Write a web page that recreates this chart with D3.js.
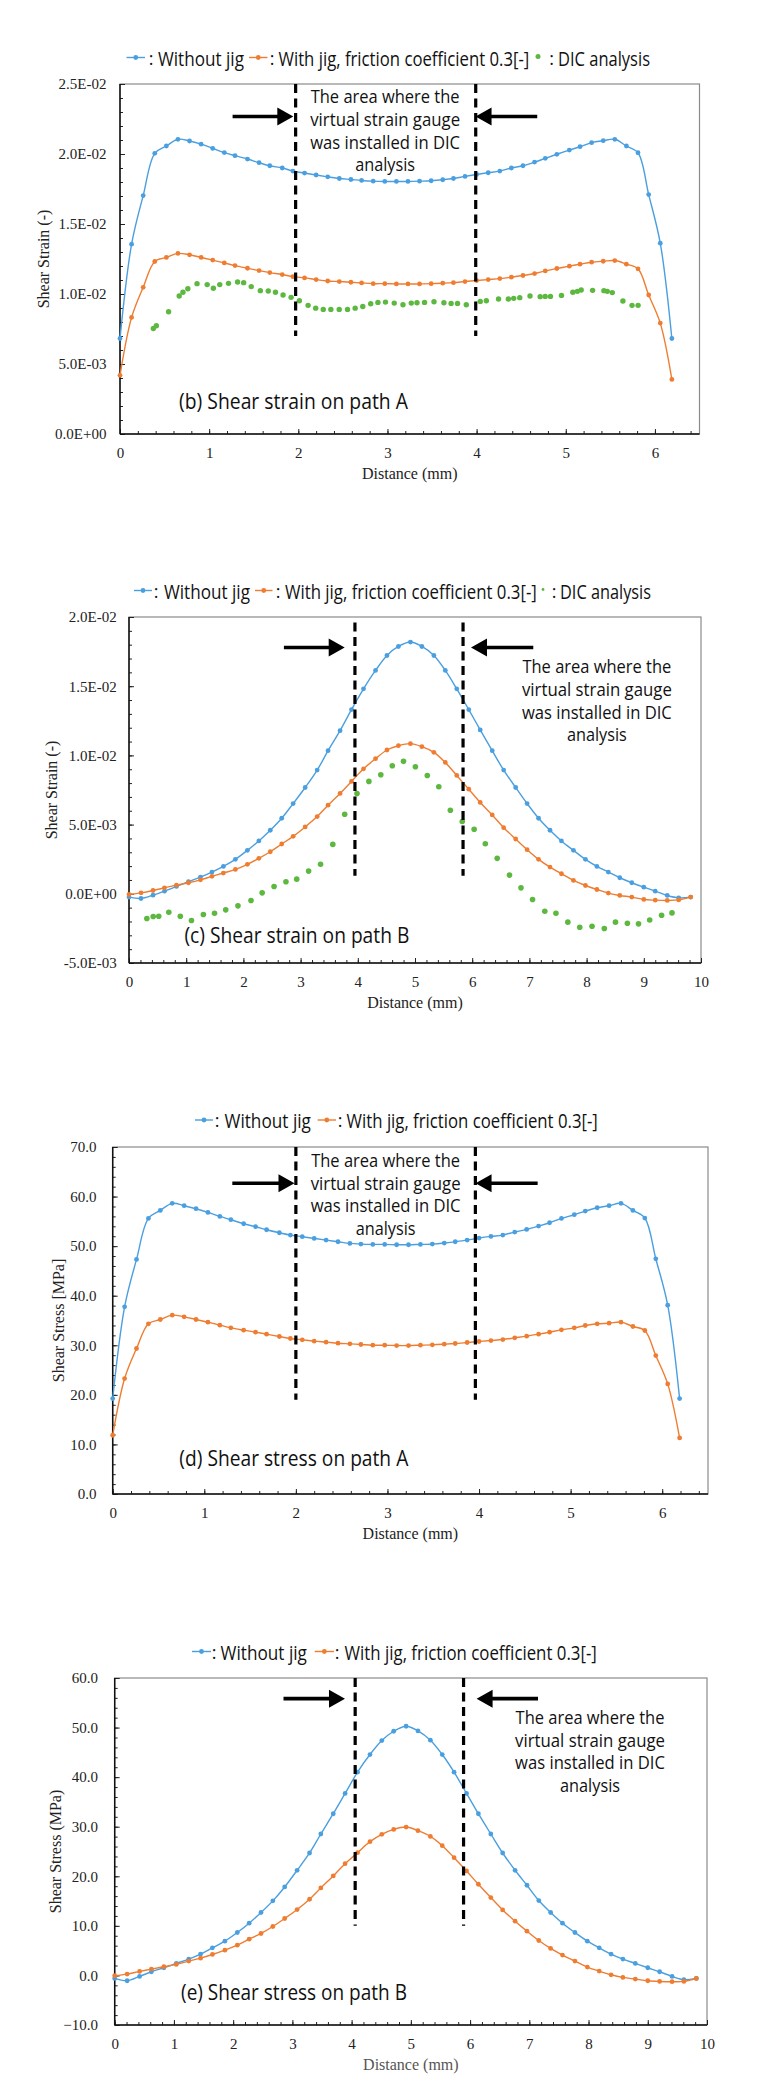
<!DOCTYPE html>
<html><head><meta charset="utf-8">
<script src="https://cdn.jsdelivr.net/npm/d3@7"></script>
<style>body{margin:0;background:#fff} svg{display:block}</style>
</head><body>
<svg id="fig" width="768" height="2099"></svg>
<script>
// ---------------- DATA ----------------
const pathA_x = [0,0.13,0.26,0.39,0.52,0.65,0.78,0.91,1.04,1.17,1.29,1.43,1.56,1.68,1.82,1.94,2.07,2.20,2.33,2.46,2.59,2.71,2.84,2.97,3.10,3.23,3.36,3.49,3.62,3.74,3.87,4.00,4.13,4.26,4.39,4.52,4.65,4.77,4.90,5.04,5.16,5.29,5.42,5.55,5.68,5.81,5.93,6.06,6.19];
const pathB_x = [0,0.21,0.42,0.62,0.83,1.04,1.25,1.45,1.65,1.86,2.07,2.27,2.47,2.67,2.87,3.08,3.29,3.48,3.69,3.89,4.10,4.31,4.51,4.71,4.92,5.12,5.33,5.53,5.73,5.94,6.14,6.35,6.55,6.76,6.96,7.16,7.36,7.56,7.77,7.98,8.18,8.38,8.58,8.79,9.00,9.20,9.41,9.61,9.82];

// (b) shear strain, path A
const strainA_noJig = [0.00682,0.01356,0.01703,0.02005,0.02057,0.02105,0.02093,0.0207,0.0204,0.0201,0.01988,0.01964,0.01938,0.01916,0.019,0.01878,0.01864,0.0185,0.01837,0.01825,0.01818,0.01811,0.01806,0.01804,0.01804,0.01804,0.01806,0.01809,0.01816,0.01825,0.0184,0.01854,0.01866,0.01878,0.019,0.01916,0.01942,0.01969,0.01998,0.02028,0.02052,0.02081,0.02095,0.02105,0.02057,0.02009,0.0171,0.01363,0.00682];
const strainA_jig = [0.00419,0.00833,0.01048,0.01232,0.01261,0.0129,0.0128,0.01261,0.01242,0.01222,0.01203,0.01184,0.01167,0.01153,0.01139,0.01124,0.01115,0.01103,0.01093,0.01089,0.01084,0.01079,0.01074,0.01074,0.01072,0.01072,0.01072,0.01074,0.01077,0.01081,0.01089,0.01096,0.01103,0.0111,0.0112,0.01132,0.01146,0.01165,0.01182,0.01199,0.01213,0.01227,0.01234,0.01239,0.01213,0.0118,0.00993,0.00792,0.0039];
const strainA_dic_x = [0.374,0.408,0.545,0.664,0.706,0.761,0.864,0.978,1.047,1.119,1.217,1.319,1.387,1.472,1.574,1.663,1.744,1.829,1.919,2.012,2.110,2.195,2.280,2.365,2.459,2.552,2.638,2.723,2.812,2.893,2.978,3.076,3.174,3.267,3.331,3.416,3.522,3.633,3.714,3.786,3.884,4.041,4.109,4.246,4.356,4.416,4.484,4.599,4.713,4.769,4.828,4.952,5.079,5.130,5.173,5.301,5.428,5.466,5.522,5.641,5.743,5.811];
const strainA_dic = [0.00754,0.00773,0.00873,0.00986,0.01012,0.01038,0.01074,0.01067,0.01041,0.01067,0.01076,0.01086,0.01081,0.01053,0.01024,0.01021,0.01012,0.00993,0.00976,0.00952,0.00919,0.00899,0.0089,0.0089,0.0089,0.0089,0.00899,0.00911,0.0093,0.0094,0.00942,0.00935,0.00923,0.00935,0.00938,0.0094,0.00945,0.00938,0.00933,0.00933,0.00923,0.00947,0.00952,0.00964,0.00964,0.00969,0.00974,0.00986,0.00981,0.00983,0.00983,0.0099,0.01012,0.01019,0.01029,0.01026,0.01024,0.01019,0.0101,0.0095,0.00919,0.00919];

// (c) shear strain, path B
const strainB_noJig = [-0.00024,-0.00034,-0.0001,0.00019,0.00053,0.00087,0.00121,0.00157,0.00198,0.00249,0.00314,0.00382,0.00459,0.00546,0.00652,0.00768,0.00894,0.01034,0.01179,0.01331,0.01481,0.01614,0.01722,0.01787,0.01819,0.01787,0.01722,0.01614,0.01481,0.01331,0.01184,0.01034,0.00894,0.00768,0.00652,0.00546,0.00459,0.00382,0.00314,0.00249,0.00198,0.00157,0.00116,0.0008,0.00048,0.00019,-0.00012,-0.00029,-0.00024];
const strainB_jig = [-0.00005,0.00007,0.00024,0.00043,0.00063,0.0008,0.00101,0.00126,0.0015,0.00176,0.00213,0.00256,0.00304,0.0036,0.00415,0.00483,0.00558,0.0064,0.00725,0.00812,0.00903,0.00976,0.01039,0.0107,0.01085,0.01063,0.01022,0.00949,0.00855,0.00756,0.0066,0.0057,0.00478,0.00396,0.00319,0.00249,0.00193,0.00145,0.00097,0.0006,0.00031,0.00005,-0.00012,-0.00024,-0.00041,-0.00046,-0.00048,-0.00044,-0.00024];
const strainB_dic_x = [0.312,0.423,0.52,0.696,0.897,1.092,1.3,1.495,1.691,1.905,2.133,2.328,2.536,2.744,2.932,3.14,3.349,3.563,3.771,3.986,4.194,4.402,4.603,4.799,5.007,5.215,5.416,5.618,5.826,6.034,6.229,6.437,6.652,6.853,7.055,7.269,7.464,7.672,7.88,8.095,8.31,8.505,8.713,8.908,9.103,9.311,9.493];
const strainB_dic = [-0.00179,-0.00164,-0.00162,-0.00133,-0.00162,-0.00193,-0.0015,-0.0014,-0.00116,-0.00087,-0.00048,0.00007,0.00053,0.00087,0.00106,0.00164,0.00213,0.00357,0.00575,0.00725,0.00812,0.0086,0.00925,0.00957,0.00918,0.00855,0.00773,0.00604,0.00522,0.00466,0.00362,0.00256,0.00135,0.00043,-0.00041,-0.00126,-0.0014,-0.00205,-0.00242,-0.00234,-0.00251,-0.00205,-0.00213,-0.00217,-0.00189,-0.00155,-0.00138];

// (d) shear stress, path A
const stressA_noJig = [19.25,37.76,47.32,55.6,57.21,58.63,58.16,57.55,56.81,56.0,55.33,54.52,53.92,53.31,52.7,52.23,51.9,51.56,51.22,50.89,50.55,50.41,50.35,50.35,50.28,50.28,50.35,50.41,50.62,50.89,51.22,51.63,51.96,52.23,52.84,53.38,54.05,54.72,55.6,56.34,57.08,57.75,58.16,58.63,57.21,55.67,47.45,38.1,19.25];
const stressA_jig = [11.85,23.29,29.35,34.33,35.2,36.08,35.74,35.2,34.67,34.06,33.52,33.05,32.65,32.24,31.77,31.37,31.1,30.83,30.63,30.42,30.29,30.16,30.02,30.02,29.95,29.95,30.02,30.09,30.22,30.36,30.56,30.76,30.96,31.16,31.5,31.84,32.24,32.65,33.12,33.52,33.99,34.33,34.46,34.67,33.79,32.98,27.93,22.21,11.31];

// (e) shear stress, path B
const stressB_noJig = [-0.6,-1.07,-0.2,0.74,1.55,2.42,3.29,4.3,5.57,6.92,8.66,10.54,12.69,15.04,17.85,21.21,24.7,28.53,32.62,36.71,41.01,44.56,47.38,49.26,50.27,49.33,47.45,44.56,41.01,36.71,32.62,28.53,24.7,21.21,18.19,15.1,12.69,10.54,8.66,6.92,5.57,4.3,3.29,2.42,1.55,0.74,-0.2,-0.87,-0.6];
const stressB_jig = [-0.06,0.27,0.81,1.28,1.75,2.22,2.89,3.49,4.23,5.1,6.11,7.32,8.46,9.87,11.48,13.29,15.37,17.65,20.07,22.55,24.77,26.98,28.46,29.46,29.93,29.2,28.05,26.18,23.76,21.08,18.39,15.71,13.22,10.94,8.93,7.05,5.44,4.1,2.89,1.68,0.87,0.13,-0.4,-0.74,-1.07,-1.21,-1.27,-1.21,-0.6];

// labels
const legendNoJig = "Without jig";
const legendJig = "With jig, friction coefficient 0.3[-]";
const legendDIC = "DIC analysis";
const noteLines = ["The area where the","virtual strain gauge","was installed in DIC","analysis"];
const xTicksA = [0,1,2,3,4,5,6];
const xTicksB = [0,1,2,3,4,5,6,7,8,9,10];
const yTicksStrainA = [0,0.005,0.01,0.015,0.02,0.025];
const yTicksStrainB = [-0.005,0,0.005,0.01,0.015,0.02];
const yTicksStressA = [0,10,20,30,40,50,60,70];
const yTicksStressB = [-10,0,10,20,30,40,50,60];

// ---------------- STYLE ----------------
const BLUE = "#4a9fe0", ORANGE = "#ee7d31", GREEN = "#5db840";
const SERIF = "'Liberation Serif','Times New Roman',serif";
const SANS = "'Open Sans','Noto Sans',sans-serif";

const svg = d3.select("#fig");
svg.append("rect").attr("width",768).attr("height",2099).attr("fill","#fff");

function sci(v){
  if (Math.abs(v) < 1e-12) return "0.0E+00";
  const e = Math.floor(Math.log10(Math.abs(v)) + 1e-9);
  const m = v / Math.pow(10, e);
  return m.toFixed(1) + "E" + (e < 0 ? "-" : "+") + String(Math.abs(e)).padStart(2, "0");
}
const f1 = d3.format(".1f");
const rng = (a,b,s) => d3.range(0, Math.round((b-a)/s)+1).map(i => +(a + i*s).toFixed(6));

// condensed sans text: scaled horizontally to a target width
function condText(g, str, x, y, size, width, anchor){
  const t = g.append("text").attr("font-family",SANS).attr("font-size",size).attr("fill","#111")
    .attr("text-anchor",anchor||"start").text(str);
  const w = t.node().getComputedTextLength();
  const k = w > 0 ? width / w : 1;
  t.attr("transform",`translate(${x},${y}) scale(${k},1)`);
  return t;
}

function drawChart(c){
  const g = svg.append("g");
  const B = c.box;
  const x = d3.scaleLinear().domain(c.xDomain).range([B.l, B.r]);
  const y = d3.scaleLinear().domain(c.yDomain).range([B.b, B.t]);

  // plot frame
  g.append("rect").attr("x",B.l).attr("y",B.t).attr("width",B.r-B.l).attr("height",B.b-B.t)
    .attr("fill","none").attr("stroke","#8a8a8a").attr("stroke-width",1.2);

  const styleAxis = s => { s.select(".domain").remove(); s.selectAll("line").attr("stroke","#222").attr("stroke-width",1); };
  // minor ticks
  g.append("g").attr("transform",`translate(0,${B.b})`)
    .call(d3.axisBottom(x).tickValues(c.xMinor).tickSize(-3).tickFormat("")).call(styleAxis)
    .call(s => s.selectAll("text").remove());
  g.append("g").attr("transform",`translate(${B.l},0)`)
    .call(d3.axisLeft(y).tickValues(c.yMinor).tickSize(-3).tickFormat("")).call(styleAxis)
    .call(s => s.selectAll("text").remove());
  // major ticks
  const xa = g.append("g").attr("transform",`translate(0,${B.b})`)
    .call(d3.axisBottom(x).tickValues(c.xTicks).tickSize(-5).tickPadding(13.3).tickFormat(d3.format("d")));
  xa.call(styleAxis);
  xa.attr("font-family",SERIF).attr("font-size",15).selectAll("text").attr("fill","#222");
  const ya = g.append("g").attr("transform",`translate(${B.l},0)`)
    .call(d3.axisLeft(y).tickValues(c.yTicks).tickSize(-5).tickPadding(c.yPad).tickFormat(c.yFmt));
  ya.call(styleAxis);
  ya.attr("font-family",SERIF).attr("font-size",15).selectAll("text").attr("fill","#222");

  // axis lines
  g.append("line").attr("x1",B.l).attr("x2",B.l).attr("y1",B.t).attr("y2",B.b).attr("stroke","#111").attr("stroke-width",1.5);
  g.append("line").attr("x1",B.l).attr("x2",B.r).attr("y1",B.b).attr("y2",B.b).attr("stroke","#111").attr("stroke-width",1.5);

  // axis titles
  g.append("text").attr("x",(B.l+B.r)/2).attr("y",B.b+45).attr("text-anchor","middle")
    .attr("font-family",SERIF).attr("font-size",16).attr("fill",c.xTitleColor||"#222").text("Distance (mm)");
  g.append("text").attr("transform",`translate(${c.yTitleX},${(B.t+B.b)/2}) rotate(-90)`)
    .attr("text-anchor","middle").attr("dominant-baseline","central")
    .attr("font-family",SERIF).attr("font-size",16).attr("fill","#222").text(c.yTitle);

  // series
  const line = d3.line().x(d=>x(d[0])).y(d=>y(d[1])).curve(d3.curveCatmullRom.alpha(0.5));
  c.series.forEach(s => {
    const pts = s.x.map((v,i)=>[v, s.y[i]]);
    if (s.line) g.append("path").attr("d",line(pts)).attr("fill","none").attr("stroke",s.color).attr("stroke-width",1.4);
    g.append("g").selectAll("circle").data(pts).join("circle")
      .attr("cx",d=>x(d[0])).attr("cy",d=>y(d[1])).attr("r",s.r).attr("fill",s.color);
  });

  // dashed lines
  c.dash.x.forEach(v => {
    g.append("line").attr("x1",x(v)).attr("x2",x(v)).attr("y1",y(c.dash.from)).attr("y2",y(c.dash.to))
      .attr("stroke","#000").attr("stroke-width",3.2).attr("stroke-dasharray","9,5.5");
  });

  // arrows
  c.arrows.forEach(a => {
    const tx = x(a.tip), sx = x(a.tail), ty = y(a.y);
    const dir = tx > sx ? 1 : -1;
    const hl = 16, hh = 9, st = 1.8;
    const p = [[sx,ty-st],[tx-dir*hl,ty-st],[tx-dir*hl,ty-hh],[tx,ty],[tx-dir*hl,ty+hh],[tx-dir*hl,ty+st],[sx,ty+st]];
    g.append("path").attr("d","M"+p.map(q=>q.join(",")).join("L")+"Z").attr("fill","#000");
  });

  // annotation
  const noteWidths = [149,150,150,60];
  noteLines.forEach((t,i) => condText(g, t, x(c.note.x), y(c.note.y)+i*22.6, 18, noteWidths[i], "middle"));

  // panel title
  condText(g, c.title.text, x(c.title.x), y(c.title.y), 21, c.title.w, "start");

  // legend
  const L = c.legend, cy = L.y;
  L.items.forEach(it => {
    if (it.kind === "line") {
      g.append("line").attr("x1",it.x1).attr("x2",it.x2).attr("y1",cy-1).attr("y2",cy-1).attr("stroke",it.color).attr("stroke-width",1.4);
      g.append("circle").attr("cx",(it.x1+it.x2)/2).attr("cy",cy-1).attr("r",2.4).attr("fill",it.color);
    } else if (it.kind === "dot") {
      g.append("circle").attr("cx",it.x).attr("cy",cy-2).attr("r",it.r).attr("fill",it.color);
    } else if (it.kind === "colon") {
      g.append("text").attr("x",it.x).attr("y",cy+6).attr("text-anchor","middle")
        .attr("font-family",SANS).attr("font-size",18).attr("fill","#111").text(":");
    } else {
      condText(g, it.text, it.x, cy+7, 20, it.w, "start");
    }
  });
}

// ---------------- CHARTS ----------------
drawChart({
  box:{l:120,r:699.5,t:84,b:434}, xDomain:[0,6.5], yDomain:[0,0.025],
  xTicks:xTicksA, xMinor:rng(0,6.4,0.2), yTicks:yTicksStrainA, yMinor:rng(0,0.025,0.001),
  yFmt:sci, yPad:13.6, yTitle:"Shear Strain (-)", yTitleX:43,
  series:[
    {x:pathA_x, y:strainA_noJig, color:BLUE, line:true, r:2.4},
    {x:pathA_x, y:strainA_jig, color:ORANGE, line:true, r:2.4},
    {x:strainA_dic_x, y:strainA_dic, color:GREEN, line:false, r:2.7}
  ],
  dash:{x:[1.97,3.99], from:0.025, to:0.007},
  arrows:[{tail:1.263, tip:1.944, y:0.02268},{tail:4.68, tip:3.988, y:0.02268}],
  note:{x:2.974, y:0.02361},
  title:{x:0.662, y:0.00182, w:229, text:"(b) Shear strain on path A"},
  legend:{y:58.5, items:[
    {kind:"line",color:BLUE,x1:126.5,x2:145},{kind:"colon",x:151},{kind:"text",x:158,w:86,text:legendNoJig},
    {kind:"line",color:ORANGE,x1:249,x2:267.5},{kind:"colon",x:272},{kind:"text",x:278.5,w:251,text:legendJig},
    {kind:"dot",color:GREEN,x:538,r:2.5},{kind:"colon",x:551.5},{kind:"text",x:558,w:92,text:legendDIC}
  ]}
});

drawChart({
  box:{l:129,r:701,t:617,b:963}, xDomain:[0,10], yDomain:[-0.005,0.02],
  xTicks:xTicksB, xMinor:rng(0,10,0.2), yTicks:yTicksStrainB, yMinor:rng(-0.005,0.02,0.001),
  yFmt:sci, yPad:12.3, yTitle:"Shear Strain (-)", yTitleX:51.5,
  series:[
    {x:pathB_x, y:strainB_noJig, color:BLUE, line:true, r:2.4},
    {x:pathB_x, y:strainB_jig, color:ORANGE, line:true, r:2.4},
    {x:strainB_dic_x, y:strainB_dic, color:GREEN, line:false, r:2.8}
  ],
  dash:{x:[3.95,5.84], from:0.0196, to:0.0013},
  arrows:[{tail:2.708, tip:3.771, y:0.0178},{tail:7.068, tip:5.979, y:0.0178}],
  note:{x:8.18, y:0.01593},
  title:{x:0.969, y:-0.00359, w:225, text:"(c) Shear strain on path B"},
  legend:{y:591.5, items:[
    {kind:"line",color:BLUE,x1:134,x2:152},{kind:"colon",x:156},{kind:"text",x:164,w:86,text:legendNoJig},
    {kind:"line",color:ORANGE,x1:255,x2:272.5},{kind:"colon",x:278},{kind:"text",x:285,w:252,text:legendJig},
    {kind:"dot",color:GREEN,x:543,r:1.4},{kind:"colon",x:554},{kind:"text",x:560,w:91,text:legendDIC}
  ]}
});

drawChart({
  box:{l:112.7,r:708,t:1147,b:1494}, xDomain:[0,6.5], yDomain:[0,70],
  xTicks:xTicksA, xMinor:rng(0,6.4,0.2), yTicks:yTicksStressA, yMinor:rng(0,70,2),
  yFmt:f1, yPad:16.1, yTitle:"Shear Stress [MPa]", yTitleX:58,
  series:[
    {x:pathA_x, y:stressA_noJig, color:BLUE, line:true, r:2.4},
    {x:pathA_x, y:stressA_jig, color:ORANGE, line:true, r:2.4}
  ],
  dash:{x:[2.0,3.96], from:70, to:19},
  arrows:[{tail:1.306, tip:1.985, y:62.68},{tail:4.64, tip:3.962, y:62.68}],
  note:{x:2.98, y:65.95},
  title:{x:0.728, y:5.69, w:229, text:"(d) Shear stress on path A"},
  legend:{y:1121, items:[
    {kind:"line",color:BLUE,x1:195,x2:213},{kind:"colon",x:217},{kind:"text",x:224.5,w:86.5,text:legendNoJig},
    {kind:"line",color:ORANGE,x1:317.6,x2:336},{kind:"colon",x:340},{kind:"text",x:346.6,w:251.4,text:legendJig}
  ]}
});

drawChart({
  box:{l:114.7,r:707,t:1678,b:2025}, xDomain:[0,10], yDomain:[-10,60],
  xTicks:xTicksB, xMinor:rng(0,10,0.2), yTicks:yTicksStressB, yMinor:rng(-10,60,2),
  yFmt:f1, yPad:16.7, yTitle:"Shear Stress (MPa)", yTitleX:55, xTitleColor:"#555",
  series:[
    {x:pathB_x, y:stressB_noJig, color:BLUE, line:true, r:2.4},
    {x:pathB_x, y:stressB_jig, color:ORANGE, line:true, r:2.4}
  ],
  dash:{x:[4.06,5.89], from:60, to:10},
  arrows:[{tail:2.85, tip:3.888, y:55.83},{tail:7.147, tip:6.11, y:55.83}],
  note:{x:8.025, y:50.70},
  title:{x:1.12, y:-4.86, w:226, text:"(e) Shear stress on path B"},
  legend:{y:1652.5, items:[
    {kind:"line",color:BLUE,x1:192,x2:211},{kind:"colon",x:214},{kind:"text",x:220.6,w:86.4,text:legendNoJig},
    {kind:"line",color:ORANGE,x1:314.7,x2:334},{kind:"colon",x:337},{kind:"text",x:344.6,w:252.4,text:legendJig}
  ]}
});
</script>
</body></html>
